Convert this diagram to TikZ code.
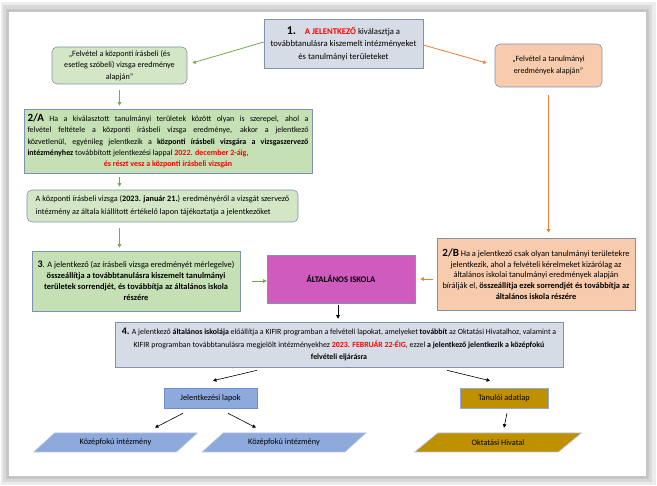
\documentclass[tikz,border=0pt]{standalone}
\usepackage{fontspec}
\setmainfont{Carlito}
\usetikzlibrary{shapes.geometric,arrows.meta,calc}
\definecolor{bgray}{HTML}{D6DCE5}
\definecolor{bbord}{HTML}{7F93B0}
\definecolor{lgreen}{HTML}{D3E6C5}
\definecolor{mgreen}{HTML}{C5E0B4}
\definecolor{peach}{HTML}{F8CBAD}
\definecolor{pink}{HTML}{CF5BBF}
\definecolor{lblue}{HTML}{8EA9DB}
\definecolor{lbord}{HTML}{6F8FC8}
\definecolor{gold}{HTML}{BF9000}
\definecolor{garrc}{HTML}{70AD47}
\definecolor{oarrc}{HTML}{ED7D31}
\definecolor{redt}{HTML}{FF0000}
\begin{document}
\begin{tikzpicture}[x=1pt,y=-1pt,
  font=\fontsize{8.3}{11}\selectfont,
  bx/.style={draw=bbord, line width=0.6pt, inner sep=0pt, align=center},
  rbx/.style={bx, rounded corners=5pt},
  para/.style={trapezium, trapezium left angle=30, trapezium right angle=150,
     trapezium stretches=true, draw=lblue!70!white, line width=0.6pt, inner sep=0pt,
     minimum width=165, minimum height=19},
  garr/.style={draw=garrc, line width=0.8pt, -{Triangle[length=3.5pt,width=3.5pt]}},
  oarr/.style={draw=oarrc, line width=0.8pt, -{Triangle[length=3.5pt,width=3.5pt]}},
  karr/.style={draw=black, line width=0.6pt, -{Triangle[length=3.5pt,width=3.5pt]}}]
% frame
\fill[gray!15] (1,2) rectangle (656,485);
\fill[gray!30] (3,5) rectangle (652,482);
\fill[gray!45] (6,9) rectangle (649,479);
\fill[white] (9,12) rectangle (646,476);
\useasboundingbox (0,0) rectangle (657,486);

\node[bx, fill=bgray, minimum width=159, minimum height=49,
  font=\fontsize{8.7}{12.5}\selectfont] (n1) at (343.5,43.5)
  {{\fontsize{12}{12}\selectfont\bfseries 1.}\quad\textcolor{redt}{\bfseries A JELENTKEZŐ} kiválasztja a\\
   továbbtanulásra kiszemelt intézményeket\\ és tanulmányi területeket};

\node[rbx, fill=lgreen, minimum width=135, minimum height=37,
  font=\fontsize{8.1}{11.5}\selectfont] (fg) at (119.5,65.5)
  {„Felvétel a központi írásbeli (és\\ esetleg szóbeli) vizsga eredménye\\ alapján”};

\node[rbx, fill=peach, minimum width=107, minimum height=43,
  font=\fontsize{8}{12}\selectfont] (fo) at (548.5,65.5)
  {„Felvétel a tanulmányi\\ eredmények alapján”};

\node[bx, fill=mgreen, minimum width=288, minimum height=64] (a2) at (168,141)
  {\parbox{281pt}{\fontsize{8}{11.3}\selectfont\noindent
   {\fontsize{11}{11}\selectfont\bfseries 2/A} Ha a kiválasztott tanulmányi területek között olyan is szerepel, ahol a\linebreak
   felvétel feltétele a központi írásbeli vizsga eredménye, akkor a jelentkező\linebreak
   közvetlenül, egyénileg jelentkezik a \textbf{központi írásbeli vizsgára a vizsgaszervező}\linebreak
   \textbf{intézményhez} továbbított jelentkezési lappal \textcolor{redt}{\bfseries 2022. december 2-áig,}\par
   {\centering\textcolor{redt}{\bfseries és részt vesz a központi írásbeli vizsgán}\par}}};

\node[rbx, fill=lgreen, minimum width=271, minimum height=32, align=left,
  font=\fontsize{8.2}{12.8}\selectfont] (kv) at (162.5,206)
  {A központi írásbeli vizsga (\textbf{2023. január 21.}) eredményéről a vizsgát szervező\\
   intézmény az általa kiállított értékelő lapon tájékoztatja a jelentkezőket};

\node[bx, fill=mgreen, minimum width=208, minimum height=60,
  font=\fontsize{8.4}{11}\selectfont] (b3) at (136,281)
  {{\fontsize{10}{10}\selectfont\bfseries 3}. A jelentkező (az írásbeli vizsga eredményét mérlegelve)\\
   \textbf{összeállítja a továbbtanulásra kiszemelt tanulmányi}\\
   \textbf{területek sorrendjét, és továbbítja az általános iskola}\\
   \textbf{részére}};

\node[bx, fill=pink, minimum width=148, minimum height=48,
  font=\fontsize{8.6}{11}\selectfont] (ai) at (341,279)
  {\textbf{ÁLTALÁNOS ISKOLA}};

\node[bx, fill=peach, minimum width=198, minimum height=72,
  font=\fontsize{8.4}{10.6}\selectfont] (b2) at (536,274)
  {{\fontsize{11}{11}\selectfont\bfseries 2/B} Ha a jelentkező csak olyan tanulmányi területekre\\
   jelentkezik, ahol a felvételi kérelmeket kizárólag az\\
   általános iskolai tanulmányi eredmények alapján\\
   bírálják el, \textbf{összeállítja ezek sorrendjét és továbbítja az}\\
   \textbf{általános iskola részére}};

\node[bx, fill=bgray, minimum width=448, minimum height=45,
  font=\fontsize{7.9}{12.4}\selectfont] (b4) at (339,344.5)
  {{\fontsize{10}{11}\selectfont\bfseries 4.} A jelentkező \textbf{általános iskolája} előállítja a KIFIR programban a felvételi lapokat, amelyeket \textbf{továbbít} az Oktatási Hivatalhoz, valamint a\\
   KIFIR programban továbbtanulásra megjelölt intézményekhez \textcolor{redt}{\bfseries 2023. FEBRUÁR 22-ÉIG}, ezzel \textbf{a jelentkező jelentkezik a középfokú}\\
   \textbf{felvételi eljárásra}};

\node[bx, draw=lbord, fill=lblue, minimum width=93, minimum height=20] (jl) at (210.5,398) {Jelentkezési lapok};
\node[bx, draw=lblue, fill=gold, minimum width=88, minimum height=20] (ta) at (504,398) {Tanulói adatlap};

\node[para, fill=lblue] (k1) at (115.5,442.5) {Középfokú intézmény};
\node[para, fill=lblue] (k2) at (284,442.5) {Középfokú intézmény};
\node[para, fill=gold, minimum width=167] (oh) at (498,442.5) {Oktatási Hivatal};

% connectors
\draw[garr] ([yshift=1.5pt]n1.west) -- ([xshift=5pt,yshift=2.5pt]fg.east);
\draw[oarr] ([yshift=-1.5pt]n1.east) -- ([xshift=-8pt,yshift=2.5pt]fo.west);
\draw[garr] ([yshift=-6pt]fg.south) -- ([yshift=3pt]a2.north -| fg.south);
\draw[garr] ([yshift=-4pt]a2.south -| fg.south) -- ([yshift=3pt]kv.north -| fg.south);
\draw[garr] ([yshift=-6pt]kv.south -| fg.south) -- ([yshift=3pt]b3.north -| fg.south);
\draw[oarr] ([yshift=-8pt]fo.south) -- ([yshift=5pt]b2.north -| fo.south);
\draw[garr] ([xshift=12pt]b3.east) -- (b3.east -| ai.west);
\draw[oarr] ([xshift=-4pt]b2.west |- ai.east) -- ([xshift=5pt]ai.east);
\draw[karr] ([xshift=-3pt,yshift=-2pt]ai.south) -- ([xshift=-3pt,yshift=3pt]b4.north -| ai.south);
\draw[karr] ([xshift=-82pt,yshift=-3pt]b4.south) -- ([xshift=2.5pt,yshift=7pt]jl.north);
\draw[karr] ([xshift=108pt,yshift=-3pt]b4.south) -- ([xshift=-14pt,yshift=7pt]ta.north);
\draw[karr] ([xshift=-27.5pt,yshift=-5pt]jl.south) -- ([xshift=39.5pt,yshift=5pt]k1.north);
\draw[karr] ([xshift=17.5pt,yshift=-5pt]jl.south) -- ([xshift=-28pt,yshift=5pt]k2.north);
\draw[karr] ([xshift=3pt,yshift=-5pt]ta.south) -- ([yshift=5pt]ta.south |- oh.north);
\end{tikzpicture}
\end{document}
